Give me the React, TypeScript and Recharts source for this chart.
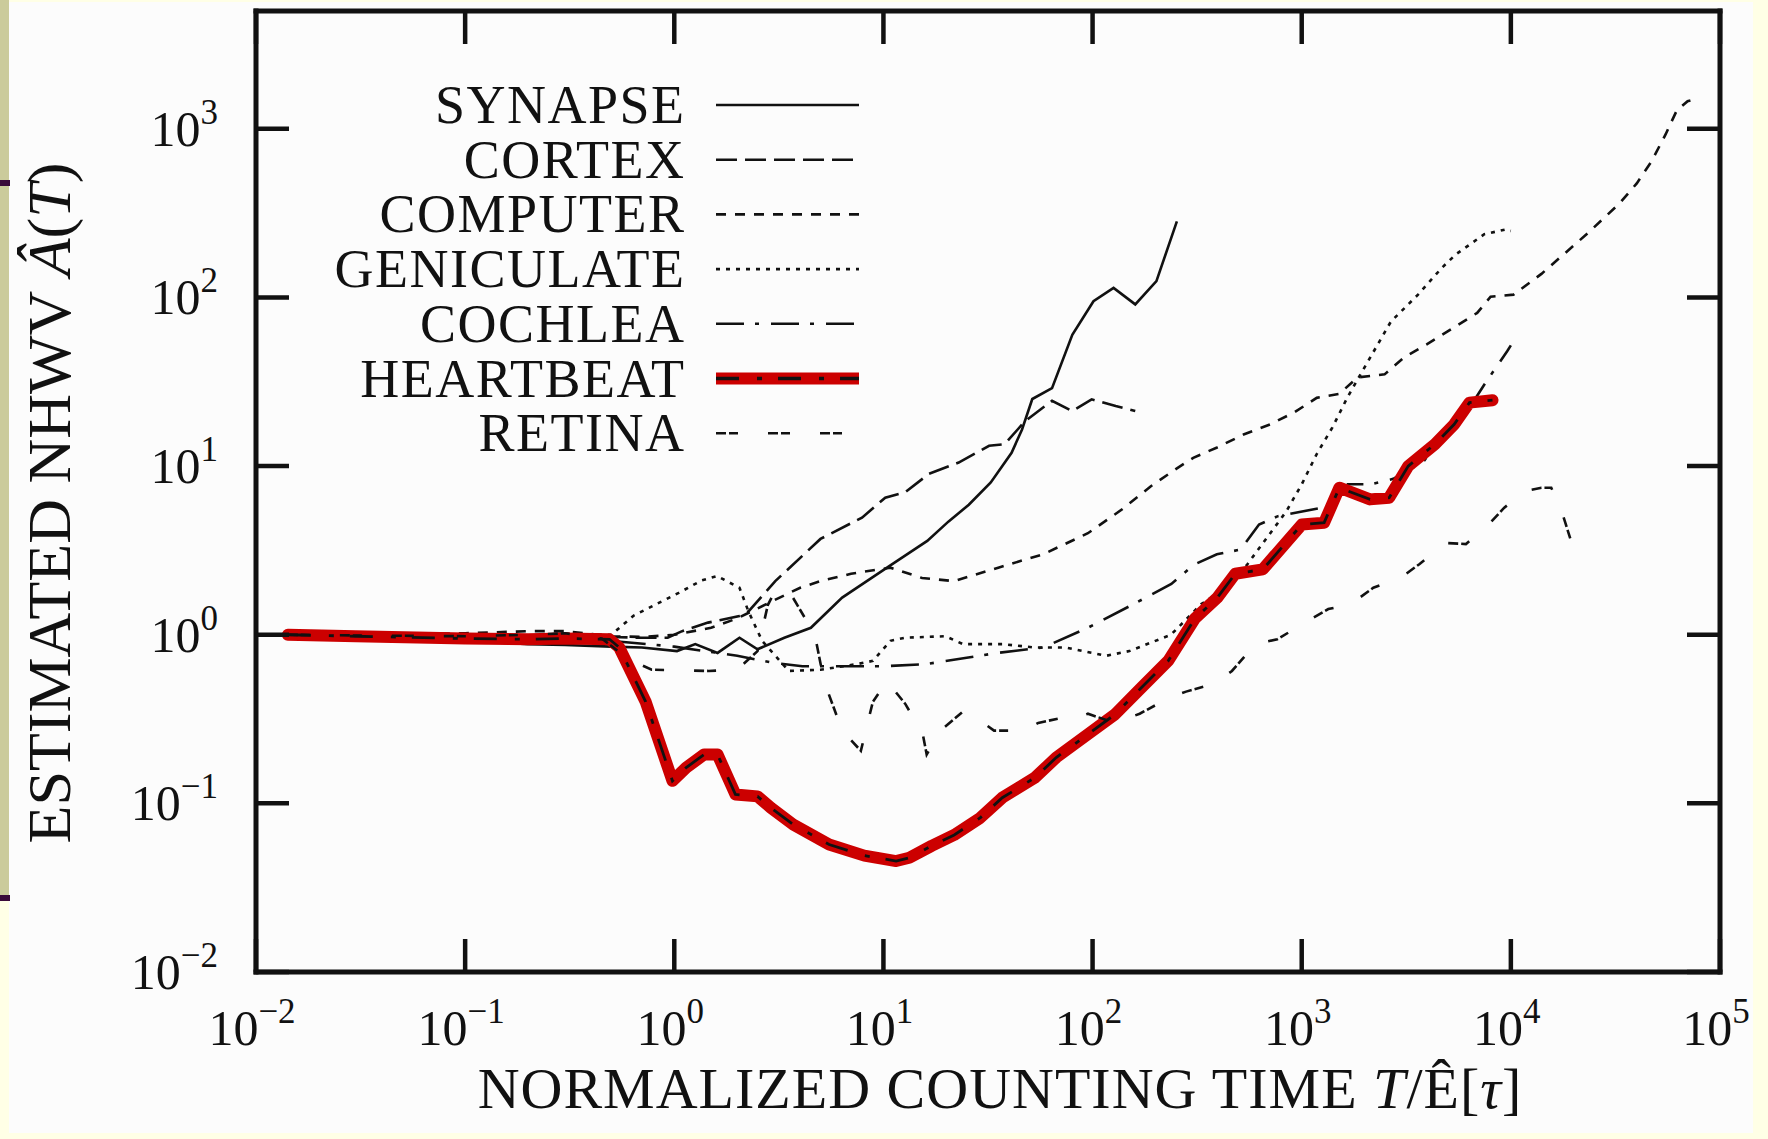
import { LineChart, Line, XAxis, YAxis, Legend } from "recharts";

type Pt = [number, number];

const SERIF = '"Liberation Serif", "Times New Roman", serif';
const INK = "#111";

const X_TICKS = [0.01, 0.1, 1, 10, 100, 1000, 10000, 100000];
const Y_TICKS = [0.01, 0.1, 1, 10, 100, 1000];
const X_DOMAIN: [number, number] = [0.01, 100000];
const Y_DOMAIN: [number, number] = [0.01, 5000];

// counting time T/E[tau] vs estimated NHWV
const SYNAPSE: Pt[] = [
  [0.0142, 1.0], [0.03, 0.98], [0.06, 0.95], [0.1, 0.92], [0.2, 0.88], [0.3, 0.87], [0.5, 0.85],
  [0.7, 0.84], [1.03, 0.8], [1.26, 0.88], [1.61, 0.78], [2.05, 0.96], [2.5, 0.82], [3.36, 0.96],
  [4.5, 1.1], [6.35, 1.66], [10.4, 2.5], [16.2, 3.6], [20.5, 4.7], [25.6, 5.9], [32.6, 8.0],
  [41, 12], [46, 16.5], [51.5, 25], [64, 29], [80, 60], [101, 95], [126, 114], [160, 91],
  [202, 125], [253, 283],
];

const CORTEX: Pt[] = [
  [0.0142, 1.0], [0.03, 0.99], [0.1, 0.97], [0.2, 0.98], [0.3, 1.02], [0.5, 0.97], [0.7, 0.96],
  [0.93, 0.96], [1.09, 1.05], [1.45, 1.18], [2.05, 1.29], [2.27, 1.38], [3.04, 2.08], [5.0, 3.7],
  [7.9, 4.95], [10.2, 6.5], [12.7, 7.0], [16.5, 9.0], [22.9, 10.5], [32, 13.2], [38, 13.5],
  [47.6, 18.5], [64, 24.4], [80, 21.2], [99, 24.9], [129, 22.7], [160, 21.2],
];

const COMPUTER: Pt[] = [
  [0.0142, 1.0], [0.03, 1.0], [0.1, 1.02], [0.2, 1.05], [0.3, 1.05], [0.5, 0.98], [0.7, 0.97],
  [1.0, 1.0], [1.5, 1.1], [2.0, 1.25], [3.0, 1.6], [4.0, 1.9], [5.0, 2.08], [7.0, 2.3],
  [10.8, 2.5], [15.3, 2.17], [21.7, 2.08], [35.4, 2.5], [58, 3.0], [95, 4.0], [140, 5.6],
  [190, 7.6], [250, 9.6], [303, 11.2], [394, 12.9], [527, 15.4], [707, 17.7], [920, 20.8],
  [1180, 25.4], [1510, 26.8], [1850, 33.6], [2490, 35], [3080, 44], [3960, 52.7], [5300, 66],
  [6900, 81], [8000, 101], [10300, 104], [14000, 138], [23000, 237], [33000, 360], [40000, 475],
  [47000, 640], [55000, 930], [62000, 1280], [70000, 1460], [79000, 1520],
];

const GENICULATE: Pt[] = [
  [0.0142, 1.0], [0.03, 0.99], [0.1, 0.97], [0.2, 0.98], [0.3, 1.0], [0.5, 1.0], [0.64, 1.3],
  [1.05, 1.77], [1.35, 2.1], [1.6, 2.23], [2.05, 1.9], [2.26, 1.38], [2.63, 0.92], [3.53, 0.61],
  [5.0, 0.62], [7.5, 0.67], [8.9, 0.7], [10.8, 0.92], [12.7, 0.96], [19.8, 0.98], [24, 0.88],
  [37, 0.88], [53, 0.84], [74, 0.84], [116, 0.75], [150, 0.8], [237, 1.0], [331, 1.52],
  [465, 2.0], [550, 2.62], [845, 5.4], [1000, 7.8], [1180, 11.8], [1400, 16.9], [1650, 25.4],
  [1960, 37], [2670, 72], [3600, 104], [4680, 150], [5450, 180], [7460, 237], [9400, 253],
  [10000, 248],
];

const COCHLEA: Pt[] = [
  [0.0142, 1.0], [0.03, 0.98], [0.1, 0.96], [0.2, 0.95], [0.3, 0.94], [0.5, 0.92], [1.0, 0.85],
  [2.0, 0.75], [3.0, 0.68], [4.1, 0.65], [9.8, 0.65], [16, 0.67], [25, 0.73], [35, 0.78],
  [58, 0.84], [95, 1.1], [154, 1.5], [238, 2.0], [305, 2.6], [393, 3.0], [510, 3.2], [625, 4.5],
  [770, 5.05], [1280, 5.7], [1660, 7.8], [2130, 7.8], [2740, 8.4], [3840, 10.7], [4500, 14.1],
  [5360, 18.5], [6340, 22.2], [7470, 30.5], [9600, 48], [10000, 52],
];

const HEARTBEAT: Pt[] = [
  [0.0142, 1.0], [0.03, 0.98], [0.1, 0.95], [0.2, 0.94], [0.3, 0.95], [0.49, 0.94], [0.546, 0.84],
  [0.73, 0.4], [0.98, 0.136], [1.14, 0.163], [1.39, 0.195], [1.61, 0.195], [1.96, 0.113],
  [2.5, 0.11], [2.9, 0.094], [3.7, 0.075], [5.5, 0.057], [8.1, 0.049], [11.5, 0.0455],
  [13.3, 0.0476], [17, 0.056], [21.8, 0.065], [29, 0.082], [37, 0.108], [53, 0.142], [67, 0.187],
  [95, 0.257], [128, 0.337], [171, 0.485], [230, 0.7], [309, 1.25], [395, 1.66], [481, 2.3],
  [651, 2.44], [1000, 4.5], [1280, 4.62], [1514, 7.45], [2120, 6.35], [2620, 6.5], [3230, 10.0],
  [4340, 13.5], [5360, 17.7], [6340, 23.8], [8170, 24.6],
];

const RETINA: Pt[] = [
  [0.0142, 1.0], [0.03, 0.99], [0.1, 0.98], [0.2, 1.0], [0.3, 1.02], [0.45, 0.95], [0.6, 0.72],
  [0.78, 0.62], [1.46, 0.61], [2.0, 0.62], [2.5, 0.8], [2.8, 1.5], [3.06, 1.86], [3.6, 1.75],
  [4.7, 1.0], [5.2, 0.53], [6.35, 0.27], [7.8, 0.205], [8.9, 0.4], [10.4, 0.53], [12.7, 0.39],
  [15.4, 0.26], [16.1, 0.195], [18.7, 0.27], [24, 0.35], [29, 0.31], [33.8, 0.27], [47, 0.27],
  [55, 0.3], [70, 0.32], [78, 0.31], [95, 0.34], [128, 0.3], [168, 0.34], [230, 0.42],
  [280, 0.46], [378, 0.51], [464, 0.61], [600, 0.88], [765, 0.94], [1000, 1.15], [1340, 1.42],
  [1720, 1.52], [2200, 1.9], [2960, 2.17], [3650, 2.62], [4900, 3.5], [6100, 3.45], [7560, 4.3],
  [9300, 5.67], [11700, 7.1], [14000, 7.45], [15600, 7.45], [17500, 5.4], [19400, 3.6],
];

const RED = "#cc0000";
const THIN = 2.6;

type Style = { dash?: string; red?: boolean };
const SERIES: { name: string; pts: Pt[]; style: Style }[] = [
  { name: "SYNAPSE", pts: SYNAPSE, style: {} },
  { name: "CORTEX", pts: CORTEX, style: { dash: "21 8" } },
  { name: "COMPUTER", pts: COMPUTER, style: { dash: "10 9" } },
  { name: "GENICULATE", pts: GENICULATE, style: { dash: "4 6" } },
  { name: "COCHLEA", pts: COCHLEA, style: { dash: "28 11 4 12" } },
  { name: "HEARTBEAT", pts: HEARTBEAT, style: { dash: "23 18 5 16", red: true } },
  { name: "RETINA", pts: RETINA, style: { dash: "10 3 9 30" } },
];

const toData = (pts: Pt[]) => pts.map(([x, y]) => ({ x, y }));

const W = 1768;
const H = 1139;
// plot box: x 256..1720, y 11..972 (axes take 1px each)
const MARGIN = { top: 10, right: 47, bottom: 166, left: 255 };
const TICK_LEN = 33;
const TICK_W = 4.5;

function Pow({ x, y, v, anchor }: { x: number; y: number; v: number; anchor: "middle" | "end" }) {
  const e = Math.round(Math.log10(v));
  const s = e < 0 ? `\u2212${-e}` : `${e}`;
  return (
    <text x={x} y={y} textAnchor={anchor} fontFamily={SERIF} fontSize={50} fill={INK}>
      10
      <tspan dy={-22} fontSize={35}>
        {s}
      </tspan>
    </text>
  );
}

function BottomTick(props: any) {
  const { x, y, payload } = props;
  return (
    <g>
      <line x1={x} x2={x} y1={y} y2={y - TICK_LEN} stroke={INK} strokeWidth={TICK_W} />
      <Pow x={x - 4} y={y + 73} v={payload.value} anchor="middle" />
    </g>
  );
}

function TopTick(props: any) {
  const { x, y } = props;
  return <line x1={x} x2={x} y1={y} y2={y + TICK_LEN} stroke={INK} strokeWidth={TICK_W} />;
}

function LeftTick(props: any) {
  const { x, y, payload } = props;
  return (
    <g>
      <line x1={x} x2={x + TICK_LEN} y1={y} y2={y} stroke={INK} strokeWidth={TICK_W} />
      <Pow x={x - 38} y={y + 17} v={payload.value} anchor="end" />
    </g>
  );
}

function RightTick(props: any) {
  const { x, y } = props;
  return <line x1={x} x2={x - TICK_LEN} y1={y} y2={y} stroke={INK} strokeWidth={TICK_W} />;
}

const LEG = { left: 290, top: 60, w: 600, h: 420 };
const LEG_TEXT_RIGHT = 684;
const LEG_X1 = 716;
const LEG_X2 = 859;
const LEG_ROW0 = 105;
const LEG_DY = 54.7;

function LegendBox() {
  return (
    <svg width={LEG.w} height={LEG.h} style={{ display: "block", overflow: "visible" }}>
      <g transform={`translate(${-LEG.left}, ${-LEG.top})`}>
        {SERIES.map((s, i) => {
          const cy = LEG_ROW0 + i * LEG_DY;
          return (
            <g key={s.name}>
              <text
                x={LEG_TEXT_RIGHT + 1.5}
                y={cy + 18}
                textAnchor="end"
                fontFamily={SERIF}
                fontSize={54}
                letterSpacing={1.5}
                fill={INK}
              >
                {s.name}
              </text>
              {s.style.red && (
                <line x1={LEG_X1} x2={LEG_X2} y1={cy} y2={cy} stroke={RED} strokeWidth={12} />
              )}
              <line
                x1={LEG_X1}
                x2={LEG_X2}
                y1={cy}
                y2={cy}
                stroke={INK}
                strokeWidth={s.style.red ? 3.5 : THIN}
                strokeDasharray={s.style.dash}
              />
            </g>
          );
        })}
      </g>
    </svg>
  );
}

function XTitle() {
  return (
    <text x={1000} y={1108} textAnchor="middle" fontFamily={SERIF} fontSize={58} letterSpacing={1} fill={INK}>
      NORMALIZED COUNTING TIME <tspan fontStyle="italic">T</tspan>/Ê[<tspan fontStyle="italic">τ</tspan>]
    </text>
  );
}

function YTitle() {
  return (
    <text
      x={70}
      y={503}
      transform="rotate(-90, 70, 503)"
      textAnchor="middle"
      fontFamily={SERIF}
      fontSize={62}
      fill={INK}
    >
      ESTIMATED NHWV <tspan fontStyle="italic">Â</tspan>(<tspan fontStyle="italic">T</tspan>)
    </text>
  );
}

const axisLine = { stroke: INK, strokeWidth: 5, strokeLinecap: "square" as const };

export default function App() {
  return (
    <div style={{ position: "absolute", left: 0, top: 0, width: W, height: H, background: "#ffffe6", overflow: "hidden" }}>
      <div style={{ position: "absolute", left: 9, top: 2, width: 1744, height: 1131, background: "#fcfcfc" }} />
      <div style={{ position: "absolute", left: 0, top: 0, width: 9, height: 900, background: "#cbcb9b" }} />
      <div style={{ position: "absolute", left: 0, top: 180, width: 10, height: 6, background: "#3a0a3a" }} />
      <div style={{ position: "absolute", left: 0, top: 895, width: 10, height: 6, background: "#3a0a3a" }} />
      <div style={{ position: "absolute", left: 0, top: 0 }}>
        <LineChart width={W} height={H} margin={MARGIN}>
          <XAxis
            dataKey="x"
            type="number"
            scale="log"
            domain={X_DOMAIN}
            allowDataOverflow
            ticks={X_TICKS}
            interval={0}
            height={1}
            tickSize={0}
            tickMargin={0}
            tickLine={false}
            axisLine={axisLine}
            tick={BottomTick}
            label={<XTitle />}
          />
          <XAxis
            xAxisId="top"
            orientation="top"
            dataKey="x"
            type="number"
            scale="log"
            domain={X_DOMAIN}
            allowDataOverflow
            ticks={X_TICKS}
            interval={0}
            height={1}
            tickSize={0}
            tickMargin={0}
            tickLine={false}
            axisLine={axisLine}
            tick={TopTick}
          />
          <YAxis
            type="number"
            scale="log"
            domain={Y_DOMAIN}
            allowDataOverflow
            ticks={Y_TICKS}
            interval={0}
            width={1}
            tickSize={0}
            tickMargin={0}
            tickLine={false}
            axisLine={axisLine}
            tick={LeftTick}
            label={<YTitle />}
          />
          <YAxis
            yAxisId="right"
            orientation="right"
            type="number"
            scale="log"
            domain={Y_DOMAIN}
            allowDataOverflow
            ticks={Y_TICKS}
            interval={0}
            width={1}
            tickSize={0}
            tickMargin={0}
            tickLine={false}
            axisLine={axisLine}
            tick={RightTick}
          />
          <Legend
            layout="vertical"
            align="center"
            verticalAlign="middle"
            wrapperStyle={{ left: LEG.left, top: LEG.top, width: LEG.w, height: LEG.h }}
            content={() => <LegendBox />}
          />
          {SERIES.flatMap((s) => {
            const data = toData(s.pts);
            const out = [];
            if (s.style.red) {
              out.push(
                <Line
                  key={s.name + "-red"}
                  data={data}
                  dataKey="y"
                  type="linear"
                  stroke={RED}
                  strokeWidth={12}
                  strokeLinejoin="round"
                  strokeLinecap="round"
                  dot={false}
                  activeDot={false}
                  legendType="none"
                  isAnimationActive={false}
                />
              );
            }
            out.push(
              <Line
                key={s.name}
                name={s.name}
                data={data}
                dataKey="y"
                type="linear"
                stroke={INK}
                strokeWidth={s.style.red ? 2.8 : THIN}
                strokeDasharray={s.style.dash}
                dot={false}
                activeDot={false}
                isAnimationActive={false}
              />
            );
            return out;
          })}
        </LineChart>
      </div>
    </div>
  );
}
